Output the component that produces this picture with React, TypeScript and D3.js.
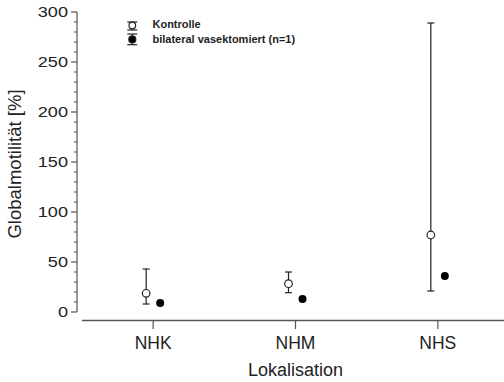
import React from 'react';
import * as d3 from 'd3';

const categories = ['NHK', 'NHM', 'NHS'];
const kontrolleMean = [18.7, 28.3, 77];
const kontrolleLow = [8, 19.3, 21];
const kontrolleHigh = [43, 40, 289];
const vasektomiert = [9, 13, 36];
const yTicks = [0, 50, 100, 150, 200, 250, 300];
const legendLabels = ['Kontrolle', 'bilateral vasektomiert (n=1)'];

const width = 504;
const height = 382;
const font = '"Liberation Sans", Arial, sans-serif';
const axisColor = '#555';

const x = d3.scalePoint<string>().domain(categories).range([82, 509]).padding(0.5);
const y = d3.scaleLinear().domain([0, 300]).range([312, 12]);
const minorTicks = d3.range(0, 301, 10).filter((v) => v % 50 !== 0);

const yAxisX = 77;
const offset = 7;

export default function App() {
  return (
    <svg
      width={width}
      height={height}
      style={{ position: 'absolute', left: 0, top: 0, background: '#fff' }}
      fontFamily={font}
    >
      {/* y axis */}
      <line x1={yAxisX} x2={yAxisX} y1={y(300)} y2={y(0)} stroke={axisColor} strokeWidth={1.2} />
      {yTicks.map((t) => (
        <g key={t}>
          <line x1={yAxisX - 6} x2={yAxisX} y1={y(t)} y2={y(t)} stroke={axisColor} strokeWidth={1.2} />
          <text
            transform={`translate(68,${y(t) + 5}) scale(1.25,1)`}
            textAnchor="end"
            fontSize={14.5}
            fill="#222"
          >
            {t}
          </text>
        </g>
      ))}
      {minorTicks.map((t) => (
        <line key={t} x1={yAxisX - 3} x2={yAxisX} y1={y(t)} y2={y(t)} stroke={axisColor} strokeWidth={1} />
      ))}
      <text
        transform={`translate(21,164) rotate(-90)`}
        textAnchor="middle"
        fontSize={18.5}
        fill="#222"
      >
        Globalmotilität [%]
      </text>

      {/* x axis */}
      <line x1={82} x2={width} y1={320.5} y2={320.5} stroke={axisColor} strokeWidth={1.5} />
      {categories.map((c) => (
        <g key={c}>
          <line x1={x(c)} x2={x(c)} y1={320.5} y2={329} stroke={axisColor} strokeWidth={1.2} />
          <text x={x(c)} y={349} textAnchor="middle" fontSize={17.5} fill="#222">
            {c}
          </text>
        </g>
      ))}
      <text x={x('NHM')} y={376} textAnchor="middle" fontSize={18} fill="#222">
        Lokalisation
      </text>

      {/* Kontrolle with error bars */}
      {categories.map((c, i) => {
        const cx = (x(c) as number) - offset;
        return (
          <g key={c} stroke="#222" strokeWidth={1.2}>
            <line x1={cx} x2={cx} y1={y(kontrolleHigh[i])} y2={y(kontrolleLow[i])} />
            <line x1={cx - 3.5} x2={cx + 3.5} y1={y(kontrolleHigh[i])} y2={y(kontrolleHigh[i])} />
            <line x1={cx - 3.5} x2={cx + 3.5} y1={y(kontrolleLow[i])} y2={y(kontrolleLow[i])} />
            <circle cx={cx} cy={y(kontrolleMean[i])} r={3.8} fill="#fff" />
          </g>
        );
      })}

      {/* vasektomiert */}
      {categories.map((c, i) => (
        <circle key={c} cx={(x(c) as number) + offset} cy={y(vasektomiert[i])} r={4} fill="#000" />
      ))}

      {/* legend */}
      <g stroke="#222" strokeWidth={1.2}>
        <line x1={132.3} x2={132.3} y1={22} y2={30} />
        <line x1={127.3} x2={137.3} y1={22} y2={22} />
        <line x1={127.3} x2={137.3} y1={30} y2={30} />
        <circle cx={132.3} cy={25.5} r={3.3} fill="#fff" />
        <line x1={132.3} x2={132.3} y1={34} y2={44.7} />
        <line x1={127.3} x2={137.3} y1={34} y2={34} />
        <line x1={127.3} x2={137.3} y1={44.7} y2={44.7} />
        <circle cx={132.3} cy={39.4} r={3.5} fill="#000" />
      </g>
      <text transform="translate(152.5,27.7) scale(1.1,1)" fontSize={10} fontWeight="bold" fill="#222">
        {legendLabels[0]}
      </text>
      <text transform="translate(152.5,42.7) scale(1.1,1)" fontSize={10} fontWeight="bold" fill="#222">
        {legendLabels[1]}
      </text>
    </svg>
  );
}
